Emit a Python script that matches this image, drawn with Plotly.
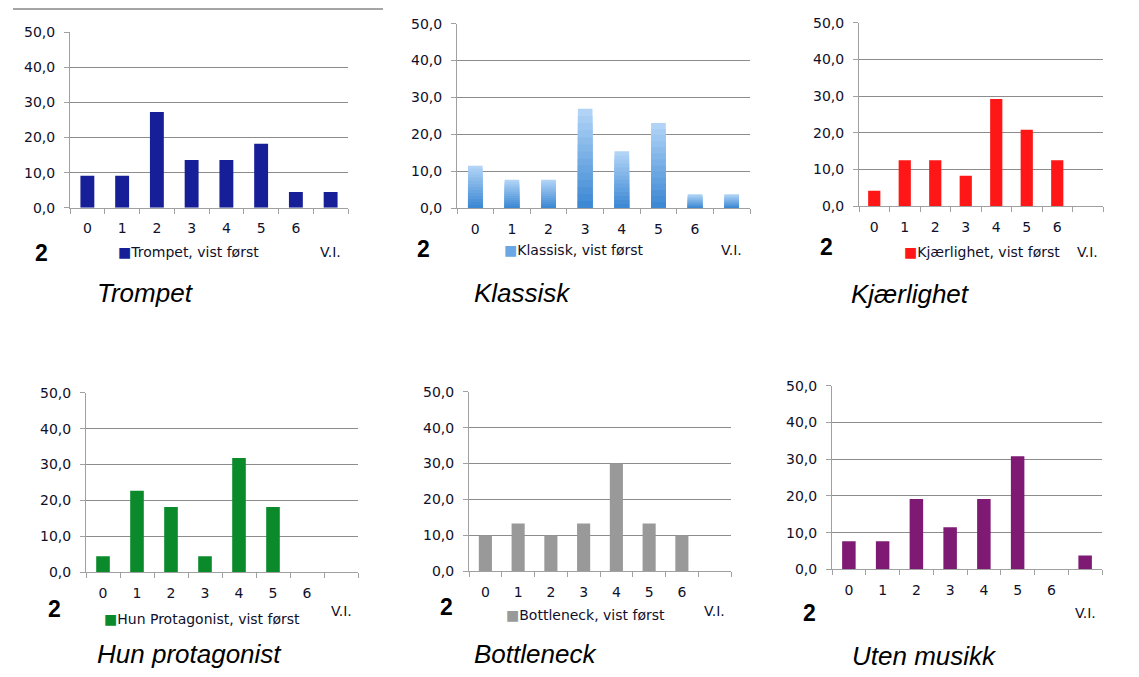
import plotly.graph_objects as go

W, H = 1139, 677

# Response categories (the last one is "V.I.")
categories = ["0", "1", "2", "3", "4", "5", "6", "V.I."]

# Percent of answers per category for each version
trompet = [9.1, 9.1, 27.3, 13.6, 13.6, 18.2, 4.5, 4.5]
klassisk = [11.5, 7.7, 7.7, 26.9, 15.4, 23.1, 3.8, 3.8]
kjaerlighet = [4.2, 12.5, 12.5, 8.3, 29.2, 20.8, 12.5, 0.0]
hun_protagonist = [4.5, 22.7, 18.2, 4.5, 31.8, 18.2, 0.0, 0.0]
bottleneck = [10.0, 13.3, 10.0, 13.3, 30.0, 13.3, 10.0, 0.0]
uten_musikk = [7.7, 7.7, 19.2, 11.5, 19.2, 30.8, 0.0, 3.8]

titles = ["Trompet", "Klassisk", "Kjærlighet", "Hun protagonist", "Bottleneck", "Uten musikk"]
series_names = ["Trompet, vist først", "Klassisk, vist først", "Kjærlighet, vist først",
                "Hun Protagonist, vist først", "Bottleneck, vist først", None]
y_ticks = [0, 10, 20, 30, 40, 50]
panel_label = "2"

series = [trompet, klassisk, kjaerlighet, hun_protagonist, bottleneck, uten_musikk]
colors = ["#161f98", None, "#ff1616", "#0b8a2b", "#999999", "#7e1a73"]
legend_colors = ["#161f98", "#6aa7e4", "#ff1616", "#0b8a2b", "#999999", "#7e1a73"]

# Pixel geometry of every panel: plot box (x0, x1, ytop, ybottom), and text anchors
panels = [
    dict(box=(70, 348, 25, 204.5), title=(95, 292), num=(41, 251), leg=(116, 250), vi=250),
    dict(box=(457, 750, 16, 205), title=(472, 292), num=(423, 247), leg=(502, 248), vi=248),
    dict(box=(859, 1103, 15, 203), title=(849, 293), num=(826, 245), leg=(902, 250), vi=250),
    dict(box=(86, 358, 394, 578), title=(95, 662), num=(54, 616), leg=(102, 626), vi=618),
    dict(box=(469, 731, 393, 577), title=(472, 662), num=(447, 614), leg=(504, 622), vi=618),
    dict(box=(832, 1102, 387, 575), title=(850, 664), num=(809, 620), leg=None, vi=620),
]

TEXT = "#10102a"
GRID = "#8c8c8c"
AXIS = "#a0a0a0"
TICKFONT = dict(family="DejaVu Sans", size=14, color=TEXT)


def px(x):
    return x / W


def py(y):
    return 1 - y / H


def lerp_color(c0, c1, t):
    a = [int(c0[i:i + 2], 16) for i in (1, 3, 5)]
    b = [int(c1[i:i + 2], 16) for i in (1, 3, 5)]
    return "rgb(%d,%d,%d)" % tuple(round(a[k] + (b[k] - a[k]) * t) for k in range(3))


fig = go.Figure()
annotations = []
layout_axes = {}

for i, (vals, p) in enumerate(zip(series, panels)):
    n = "" if i == 0 else str(i + 1)
    xa, ya = "x" + n, "y" + n
    x0, x1, yt, yb = p["box"]

    if colors[i] is None:
        # vertical gradient: stacked-down layers, light at the top, darker toward the base
        steps = 14
        for k in range(steps):
            frac = (steps - k) / steps
            fig.add_trace(go.Bar(
                x=categories, y=[v * frac for v in vals], xaxis=xa, yaxis=ya,
                marker=dict(color=lerp_color("#b0d3f6", "#3d89d3", k / (steps - 1)), line=dict(width=0)),
                showlegend=False, hoverinfo="skip" if k else None,
            ))
    else:
        fig.add_trace(go.Bar(
            x=categories, y=vals, xaxis=xa, yaxis=ya,
            marker=dict(color=colors[i], line=dict(width=0)),
            showlegend=False,
        ))

    layout_axes["xaxis" + n] = dict(
        domain=[px(x0), px(x1)], anchor=ya, type="category",
        categoryorder="array", categoryarray=categories,
        tickmode="array", tickvals=categories,
        ticktext=[c if c != "V.I." else "" for c in categories],
        showline=True, linecolor=AXIS, linewidth=1,
        ticks="outside", tickson="boundaries", ticklen=5, tickcolor=AXIS,
        showgrid=False, zeroline=False, tickfont=TICKFONT, ticklabelstandoff=8,
        fixedrange=True,
    )
    layout_axes["yaxis" + n] = dict(
        domain=[py(yb), py(yt)], anchor=xa, range=[0, 50],
        tickmode="array", tickvals=y_ticks, tickformat=".1f",
        showgrid=True, gridcolor=GRID, gridwidth=1,
        showline=True, linecolor=AXIS, linewidth=1,
        ticks="outside", ticklen=5, tickcolor=AXIS,
        zeroline=False, tickfont=TICKFONT, ticklabelstandoff=6,
        fixedrange=True,
    )

    # "V.I." category label sits one line lower, under its category
    annotations.append(dict(
        x="V.I.", xref=xa, y=py(p["vi"]), yref="paper", text="V.I.",
        showarrow=False, xanchor="center", yanchor="middle", font=TICKFONT,
    ))
    # bold panel number
    annotations.append(dict(
        x=px(p["num"][0]), y=py(p["num"][1]), xref="paper", yref="paper",
        text="<b>%s</b>" % panel_label, showarrow=False, xanchor="center", yanchor="middle",
        font=dict(family="Liberation Sans", size=23, color="#000000"),
    ))
    # series key
    if series_names[i]:
        annotations.append(dict(
            x=px(p["leg"][0]), y=py(p["leg"][1]), xref="paper", yref="paper",
            text='<span style="color:%s">■</span>%s' % (legend_colors[i], series_names[i]),
            showarrow=False, xanchor="left", yanchor="middle", font=TICKFONT,
        ))
    # italic caption
    annotations.append(dict(
        x=px(p["title"][0]), y=py(p["title"][1]), xref="paper", yref="paper",
        text="<i>%s</i>" % titles[i], showarrow=False, xanchor="left", yanchor="middle",
        font=dict(family="Liberation Sans", size=26, color="#000000"),
    ))

fig.update_layout(
    width=W, height=H, margin=dict(l=0, r=0, t=0, b=0, pad=0),
    paper_bgcolor="white", plot_bgcolor="white",
    barmode="overlay", bargap=0.6, separators=",.",
    annotations=annotations,
    shapes=[dict(type="line", xref="paper", yref="paper", x0=px(13), x1=px(383),
                 y0=py(1), y1=py(1), line=dict(color="#a5a5a5", width=2))],
    showlegend=False,
    **layout_axes,
)

fig.write_html("out.html", config={"displayModeBar": False})
